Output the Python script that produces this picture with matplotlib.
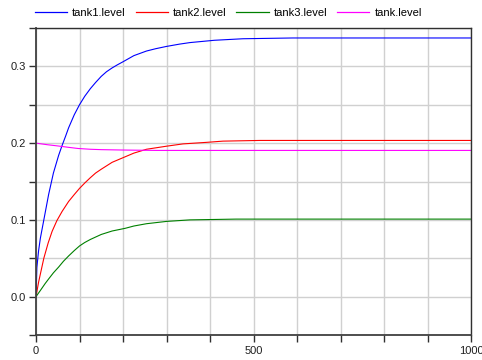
import matplotlib
matplotlib.use("Agg")
import matplotlib.pyplot as plt
from matplotlib.ticker import MultipleLocator, FixedLocator

plt.rcParams['font.family'] = ['Liberation Sans', 'DejaVu Sans']

# ---- data ----
t_tank1 = [0, 2, 6, 10, 18, 29, 40, 52, 60, 68, 75, 88, 100, 112, 125, 137, 150, 162, 175, 187,
           200, 225, 254, 275, 300, 330, 354, 410, 476, 590, 1000]
tank1_level = [0.0, 0.038, 0.060, 0.076, 0.100, 0.133, 0.161, 0.184, 0.197, 0.209, 0.220, 0.237,
               0.250, 0.261, 0.271, 0.279, 0.287, 0.293, 0.298, 0.302, 0.306, 0.314, 0.320,
               0.323, 0.326, 0.329, 0.331, 0.334, 0.336, 0.337, 0.337]

t_tank2 = [0, 6, 18, 28, 37, 48, 60, 75, 88, 100, 112, 125, 137, 150, 175, 200, 225, 254,
           300, 338, 392, 430, 515, 1000]
tank2_level = [0.0, 0.019, 0.050, 0.070, 0.085, 0.099, 0.111, 0.124, 0.133, 0.141, 0.148,
               0.155, 0.161, 0.166, 0.175, 0.181, 0.187, 0.192, 0.196, 0.199, 0.201, 0.2026,
               0.2035, 0.2035]

t_tank3 = [0, 10, 21, 29, 40, 52, 63, 75, 88, 100, 112, 125, 150, 175, 205, 225, 254, 300,
           354, 460, 1000]
tank3_level = [0.0, 0.008, 0.017, 0.023, 0.031, 0.0385, 0.046, 0.053, 0.060, 0.0660, 0.0705,
               0.0745, 0.081, 0.0855, 0.089, 0.092, 0.095, 0.098, 0.100, 0.101, 0.101]

t_tank = [0, 25, 55, 75, 97, 125, 150, 200, 277, 1000]
tank_level = [0.200, 0.198, 0.196, 0.1945, 0.193, 0.192, 0.1915, 0.191, 0.1905, 0.1905]

series_names = ["tank1.level", "tank2.level", "tank3.level", "tank.level"]
series_colors = ["#0000ff", "#ff0000", "#008000", "#ff00ff"]

x_tick_labels = [0, 500, 1000]
y_tick_labels = [0.0, 0.1, 0.2, 0.3]

# ---- figure ----
fig = plt.figure(figsize=(4.82, 3.60), dpi=100)
ax = fig.add_axes([36 / 482, 1 - 335 / 360, (471 - 36) / 482, (335 - 28) / 360])

series = [(t_tank1, tank1_level), (t_tank2, tank2_level), (t_tank3, tank3_level), (t_tank, tank_level)]
for (tt, vv), name, col in zip(series, series_names, series_colors):
    ax.plot(tt, vv, color=col, lw=0.8, label=name)

ax.set_xlim(0, 1000)
ax.set_ylim(-0.05, 0.35)

ax.xaxis.set_major_locator(FixedLocator(x_tick_labels))
ax.xaxis.set_minor_locator(MultipleLocator(100))
ax.yaxis.set_major_locator(FixedLocator(y_tick_labels))
ax.yaxis.set_minor_locator(MultipleLocator(0.05))
ax.set_yticklabels([f"{v:.1f}" for v in y_tick_labels])
ax.set_xticklabels([str(v) for v in x_tick_labels])

ax.grid(True, which='both', color='#d0d0d0', lw=1.0)
ax.set_axisbelow(True)

ax.tick_params(which='both', direction='out', length=5, width=1.0, color='#303030',
               labelsize=8, labelcolor='#202020', pad=2)
ax.tick_params(axis='x', which='both', pad=3)

for side in ['left', 'bottom']:
    ax.spines[side].set_linewidth(1.3)
    ax.spines[side].set_color('#404040')
for side in ['top', 'right']:
    ax.spines[side].set_linewidth(1.0)
    ax.spines[side].set_color('#303030')

leg = ax.legend(loc='lower left', bbox_to_anchor=(-0.003, 1.034), ncol=4, frameon=False,
                fontsize=8, handlelength=2.9, handletextpad=0.45, columnspacing=0.9,
                borderaxespad=0, borderpad=0)
for line in leg.get_lines():
    line.set_linewidth(0.9)

fig.savefig("out.png", dpi=100)
